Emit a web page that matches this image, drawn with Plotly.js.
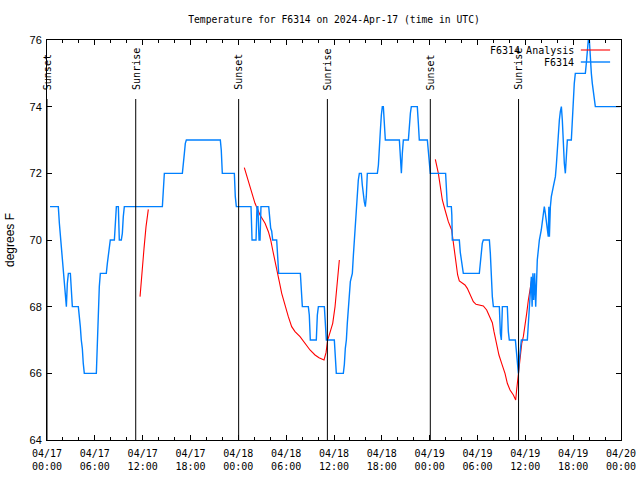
<!DOCTYPE html>
<html>
<head>
<meta charset="utf-8">
<script src="https://cdn.plot.ly/plotly-3.0.1.min.js"></script>
<style>
  html, body { margin: 0; padding: 0; background: #ffffff; }
  #chart { width: 640px; height: 480px; }
</style>
</head>
<body>
<div id="chart"></div>
<script>
// Hours since 2024-04-17 00:00 UTC and temperature (deg F) for station F6314
const obsHours = [
  0.38, 1.42, 1.55, 1.80, 2.05, 2.17, 2.30, 2.43, 2.55, 2.68, 2.93, 3.05, 3.18, 3.93, 4.05, 4.18, 4.30, 4.43, 4.55, 4.68,
  6.19, 6.31, 6.44, 6.56, 6.69, 7.44, 7.57, 7.69, 7.82, 7.94, 8.45, 8.58, 8.70, 8.95, 9.02, 9.07, 9.32, 9.45, 9.57, 9.70,
  14.47, 14.55, 14.60, 14.72, 16.98, 17.10, 17.23, 17.35, 17.48, 21.74, 21.86, 21.99, 23.50, 23.62, 23.75,
  25.59, 25.72, 26.22, 26.34, 26.45, 26.60, 26.72, 26.84, 27.81, 27.93, 28.06, 28.18, 28.31, 28.81, 28.93, 29.06,
  31.78, 31.90, 32.03, 32.78, 32.90, 33.03, 33.78, 33.91, 34.04, 34.79, 34.92, 35.04, 36.04, 36.17, 36.29,
  37.17, 37.30, 37.42, 37.55, 37.67, 37.80, 37.92, 38.05, 38.17, 38.30, 38.42, 38.55, 38.68, 38.80, 38.93, 39.05, 39.18,
  39.43, 39.55, 39.68, 39.80, 39.93, 40.05, 40.18, 41.44, 41.57, 41.69, 41.82, 41.94, 42.06, 42.19, 42.32, 42.44,
  44.20, 44.32, 44.45, 44.57, 44.70, 45.33, 45.45, 45.58, 45.70, 46.45, 46.58, 46.70, 47.71, 47.83, 47.96, 48.08,
  50.00, 50.12, 50.22, 50.72, 50.78, 50.84, 51.72, 51.84, 51.97, 52.09, 52.22, 54.23, 54.35, 54.48, 54.60, 54.73,
  55.49, 55.61, 55.74, 55.86, 55.99, 56.74, 56.87, 56.99, 57.12, 57.74, 57.87, 57.99, 58.75, 58.87, 59.00, 59.13,
  59.25, 59.38, 59.50, 60.25, 60.37, 60.50, 60.63, 60.75, 60.85, 60.95, 61.05, 61.17, 61.30, 61.38, 61.50, 61.63, 61.76,
  62.00, 62.13, 62.26, 62.38, 62.51, 62.63, 62.76, 62.88, 62.95, 63.02, 63.14, 63.26, 63.51, 63.64, 63.77, 63.89,
  64.02, 64.14, 64.27, 64.39, 64.52, 64.64, 64.77, 64.89, 65.02, 65.14, 65.27, 65.77, 65.89, 66.02, 66.14, 66.27,
  67.53, 67.65, 67.78, 67.90, 68.03, 68.15, 68.28, 68.40, 68.65, 68.78, 71.87
];
const obsTemps = [
  71, 71, 70.5, 69.8, 69.2, 68.8, 68.3, 68.0, 68.7, 69.0, 69.0, 68.5, 68.0, 68.0, 67.75, 67.4, 67.0, 66.75, 66.3, 66.0,
  66.0, 67.0, 68.0, 68.6, 69.0, 69.0, 69.3, 69.6, 69.85, 70.0, 70.0, 70.6, 71.0, 71.0, 70.4, 70.0, 70.0, 70.2, 70.7, 71.0,
  71.0, 71.3, 71.75, 72.0, 72.0, 72.4, 72.6, 72.9, 73.0, 73.0, 72.7, 72.0, 72.0, 71.3, 71.0,
  71.0, 70.0, 70.0, 71.0, 71.0, 70.0, 70.0, 71.0, 71.0, 70.6, 70.35, 70.27, 70.0, 70.0, 69.5, 69.0,
  69.0, 68.3, 68.0, 68.0, 67.75, 67.0, 67.0, 67.75, 68.0, 68.0, 67.2, 67.0, 67.0, 66.5, 66.0,
  66.0, 66.27, 66.75, 67.0, 67.5, 68.0, 68.5, 68.75, 68.87, 69.0, 69.5, 70.0, 70.3, 70.75, 71.3, 71.8, 72.0,
  72.0, 71.65, 71.35, 71.15, 71.0, 71.3, 72.0, 72.0, 72.25, 73.0, 73.3, 73.75, 74.0, 74.0, 73.3, 73.0,
  73.0, 72.4, 72.0, 72.6, 73.0, 73.0, 73.5, 73.8, 74.0, 74.0, 73.5, 73.0, 73.0, 72.65, 72.4, 72.0,
  72.0, 71.4, 71.0, 71.0, 70.75, 70.0, 70.0, 69.63, 69.37, 69.12, 69.0, 69.0, 69.37, 69.63, 69.9, 70.0,
  70.0, 69.6, 68.75, 68.3, 68.0, 68.0, 67.2, 67.0, 68.0, 68.0, 67.25, 67.0, 67.0, 66.6, 66.4, 66.0,
  66.4, 66.8, 67.0, 67.0, 67.5, 68.0, 68.5, 68.9, 68.0, 69.0, 68.2, 69.0, 68.0, 69.0, 69.4, 69.7, 70.0,
  70.3, 70.6, 70.85, 71.0, 70.8, 70.6, 70.25, 70.1, 71.0, 70.1, 71.0, 71.3, 71.6, 71.75, 71.9, 72.25,
  72.8, 73.3, 73.6, 73.85, 74.0, 73.6, 72.8, 72.3, 72.0, 72.75, 73.0, 73.0, 73.7, 74.3, 74.7, 75.0,
  75.0, 75.3, 75.7, 76.0, 76.0, 75.3, 75.0, 74.7, 74.3, 74.0, 74.0
];

// Analysis curve (null = gap between the three analysis runs)
const anaHours = [
  11.67, 11.92, 12.17, 12.42, 12.71, null,
  24.75, 25.10, 25.46, 26.09, 26.72, 27.35, 27.77, 28.06, 28.31, 28.60, 28.89, 29.14, 29.44, 29.65, 29.94,
  30.27, 30.69, 31.11, 31.74, 32.36, 32.99, 33.62, 34.12, 34.75, 35.00, 35.21, 35.50, 35.84, 36.13, 36.34, 36.55, 36.67, null,
  48.71, 49.09, 49.34, 49.59, 49.93, 50.34, 50.76, 50.97, 51.09, 51.30, 51.51, 51.72, 52.01, 52.43, 52.72, 53.06,
  53.48, 53.81, 54.31, 54.73, 55.15, 55.57, 55.86, 56.07, 56.40, 56.69, 57.03, 57.45, 57.74, 58.08, 58.50, 58.79,
  58.91, 59.04, 59.17, 59.29, 59.42, 59.55, 59.75, 59.96, 60.17, 60.38, 60.59, 60.80
];
const anaTemps = [
  68.3, 69.1, 69.75, 70.4, 70.92, null,
  72.17, 71.9, 71.6, 71.1, 70.75, 70.5, 70.25, 70.0, 69.7, 69.4, 69.05, 68.75, 68.4, 68.2, 67.95,
  67.7, 67.4, 67.25, 67.1, 66.9, 66.7, 66.55, 66.47, 66.4, 66.62, 67.0, 67.25, 67.5, 68.0, 68.6, 69.1, 69.4, null,
  72.42, 72.0, 71.6, 71.2, 70.9, 70.55, 70.3, 69.95, 69.7, 69.4, 68.95, 68.77, 68.72, 68.65, 68.55, 68.35,
  68.15, 68.07, 68.05, 68.02, 67.9, 67.7, 67.52, 67.25, 66.9, 66.55, 66.3, 66.0, 65.7, 65.5, 65.35, 65.2,
  65.5, 65.8, 66.1, 66.4, 66.65, 66.9, 67.1, 67.4, 67.8, 68.2, 68.6, 68.82
];

// Sun events (hours since 2024-04-17 00:00 UTC)
const sunsetHours = [0.0, 24.04, 48.08];
const sunriseHours = [11.13, 35.17, 59.15];

const seriesNames = ["F6314 Analysis", "F6314"];
const seriesColors = ["#ff0000", "#0080ff"];
const seriesWidths = [1.1, 1.4];
const chartTitle = "Temperature for F6314 on 2024-Apr-17 (time in UTC)";

const BASE = Date.UTC(2024, 3, 17, 0, 0, 0);
function toDate(h) {
  if (h === null) return null;
  return new Date(BASE + h * 3600000).toISOString().slice(0, 19).replace("T", " ");
}

const mono = "DejaVu Sans Mono, Liberation Mono, monospace";
const sans = "Liberation Sans, Arial, sans-serif";

const traces = [
  {
    x: anaHours.map(toDate), y: anaTemps, name: seriesNames[0], type: "scatter", mode: "lines",
    line: { color: seriesColors[0], width: seriesWidths[0] }, connectgaps: false, hoverinfo: "skip"
  },
  {
    x: obsHours.map(toDate), y: obsTemps, name: seriesNames[1], type: "scatter", mode: "lines",
    line: { color: seriesColors[1], width: seriesWidths[1] }, hoverinfo: "skip"
  }
];

const shapes = [];
const annotations = [];
function sunLine(h, label) {
  shapes.push({ type: "line", xref: "x", yref: "paper", x0: toDate(h), x1: toDate(h), y0: 0, y1: 0.8525,
    line: { color: "#000", width: 1 }, layer: "above" });
  annotations.push({ xref: "x", yref: "paper", x: toDate(h), y: 0.872, text: label, textangle: -90,
    showarrow: false, xanchor: "center", yanchor: "bottom", borderpad: 0,
    font: { family: mono, size: 10, color: "#000" } });
}
sunsetHours.forEach(h => sunLine(h, "Sunset"));
sunriseHours.forEach(h => sunLine(h, "Sunrise"));

// gnuplot-style key: text then sample line, top right
const keyRows = [0.975, 0.945];
seriesNames.forEach((nm, i) => {
  annotations.push({ xref: "paper", yref: "paper", x: 0.919, y: keyRows[i], text: nm, showarrow: false,
    xanchor: "right", yanchor: "middle", borderpad: 0, font: { family: mono, size: 10, color: "#000" } });
  shapes.push({ type: "line", xref: "paper", yref: "paper", x0: 0.930, x1: 0.981, y0: keyRows[i], y1: keyRows[i],
    line: { color: seriesColors[i], width: seriesWidths[i] } });
});

const layout = {
  width: 640, height: 480,
  margin: { l: 47, r: 19, t: 40, b: 40, pad: 0 },
  paper_bgcolor: "#fff", plot_bgcolor: "#fff",
  showlegend: false,
  title: { text: chartTitle, x: 0.5, xref: "paper", xanchor: "center", y: 1 - 20 / 480, yref: "container", yanchor: "middle",
    font: { family: mono, size: 9.7, color: "#000" } },
  xaxis: {
    type: "date", range: [toDate(0), toDate(72)],
    tick0: toDate(0), dtick: 6 * 3600000, tickformat: "%m/%d<br>%H:%M",
    ticks: "inside", ticklen: 5, tickwidth: 1, tickcolor: "#000",
    ticklabelstandoff: 4,
    minor: { dtick: 2 * 3600000, ticks: "inside", ticklen: 3, tickcolor: "#000", showgrid: false },
    showline: true, linecolor: "#000", linewidth: 1, mirror: "allticks",
    showgrid: false, zeroline: false,
    tickfont: { family: mono, size: 10, color: "#000" }
  },
  yaxis: {
    range: [64, 76], dtick: 2, tick0: 64,
    ticks: "inside", ticklen: 5, tickwidth: 1, tickcolor: "#000",
    ticklabelstandoff: 2,
    showline: true, linecolor: "#000", linewidth: 1, mirror: "allticks",
    showgrid: false, zeroline: false,
    tickfont: { family: sans, size: 11, color: "#000" },
    title: { text: "degrees F", standoff: 12, font: { family: sans, size: 12, color: "#000" } }
  },
  shapes: shapes,
  annotations: annotations
};

Plotly.newPlot("chart", traces, layout, { staticPlot: true, displayModeBar: false });
</script>
</body>
</html>
